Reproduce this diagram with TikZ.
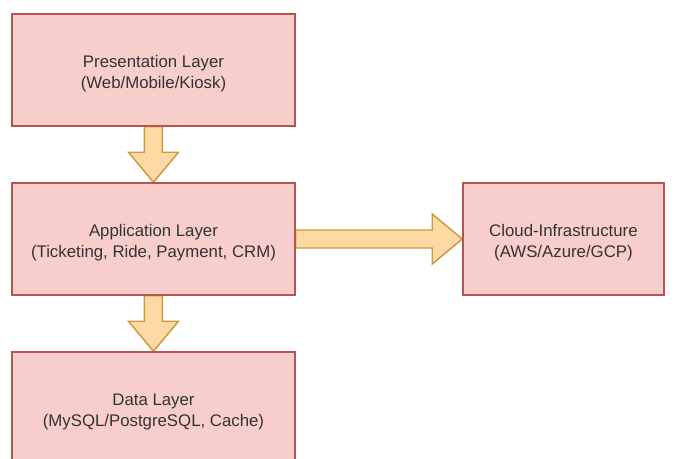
\documentclass[tikz,border=0pt]{standalone}
\usepackage{fontspec}
\setmainfont{Liberation Sans}
\usepackage{xcolor}
\usepackage{tikz}
\usetikzlibrary{positioning,calc,backgrounds}

\definecolor{layerfill}{HTML}{F8CECC}
\definecolor{layerdraw}{HTML}{B85450}
\definecolor{flowfill}{HTML}{FFD9A3}
\definecolor{flowdraw}{HTML}{C99A3E}

\begin{document}
\begin{tikzpicture}[
        node distance=126.75pt,
        layer/.style={draw=layerdraw,fill=layerfill,line width=1.1pt,
            minimum width=212.25pt,minimum height=84pt,align=center,
            text height=30.5pt,text depth=3pt,
            text=black!80,font=\fontsize{12.6}{15.75}\selectfont},
        flow/.style={draw=flowdraw,fill=flowfill,line width=1.1pt,line join=miter}
    ]
        \useasboundingbox (0,0) rectangle (507pt,-344.25pt);

        % layers
        \node[layer] (P) at (115.1pt,-52.5pt) {Presentation Layer\\(Web/Mobile/Kiosk)};
        \node[layer] (A) [below of=P] {Application Layer\\(Ticketing, Ride, Payment, CRM)};
        \node[layer] (D) [below of=A] {Data Layer\\(MySQL/PostgreSQL, Cache)};
        \node[layer,minimum width=150.75pt] (C) [node distance=307.5pt,right of=A] {Cloud-Infrastructure\\(AWS/Azure/GCP)};

        % block arrows
        \begin{scope}[on background layer]
        \draw[flow] ($(P.south)+(-6.75pt,0)$) -- ($(A.north)+(-6.75pt,22.5pt)$) -- ($(A.north)+(-18.75pt,22.5pt)$)
            -- (A.north) -- ($(A.north)+(18.75pt,22.5pt)$) -- ($(A.north)+(6.75pt,22.5pt)$) -- ($(P.south)+(6.75pt,0)$) -- cycle;
        \draw[flow] ($(A.south)+(-6.75pt,0)$) -- ($(D.north)+(-6.75pt,22.5pt)$) -- ($(D.north)+(-18.75pt,22.5pt)$)
            -- (D.north) -- ($(D.north)+(18.75pt,22.5pt)$) -- ($(D.north)+(6.75pt,22.5pt)$) -- ($(A.south)+(6.75pt,0)$) -- cycle;
        \draw[flow] ($(A.east)+(0,6.75pt)$) -- ($(C.west)+(-22.5pt,6.75pt)$) -- ($(C.west)+(-22.5pt,18.75pt)$)
            -- (C.west) -- ($(C.west)+(-22.5pt,-18.75pt)$) -- ($(C.west)+(-22.5pt,-6.75pt)$) -- ($(A.east)+(0,-6.75pt)$) -- cycle;
        \end{scope}
    \end{tikzpicture}
\end{document}
